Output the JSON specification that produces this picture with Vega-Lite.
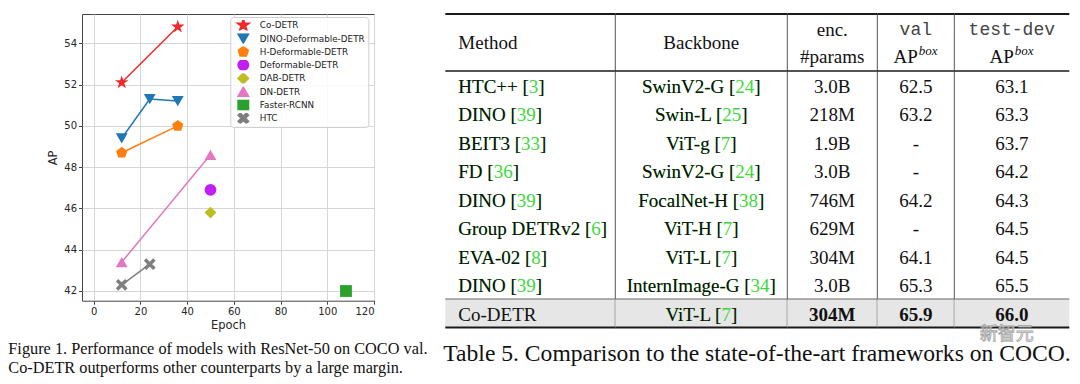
{
  "$schema": "https://vega.github.io/schema/vega-lite/v6.json",
  "background": "white",
  "padding": {"left": 7, "top": 13, "right": 0, "bottom": 0},
  "bounds": "flush",
  "spacing": 71.3,
  "datasets": {
    "perf": [
      {"model": "Co-DETR", "epoch": 12, "ap": 52.1},
      {"model": "Co-DETR", "epoch": 36, "ap": 54.8},
      {"model": "DINO-Deformable-DETR", "epoch": 12, "ap": 49.4},
      {"model": "DINO-Deformable-DETR", "epoch": 24, "ap": 51.3},
      {"model": "DINO-Deformable-DETR", "epoch": 36, "ap": 51.2},
      {"model": "H-Deformable-DETR", "epoch": 12, "ap": 48.7},
      {"model": "H-Deformable-DETR", "epoch": 36, "ap": 50.0},
      {"model": "Deformable-DETR", "epoch": 50, "ap": 46.9},
      {"model": "DAB-DETR", "epoch": 50, "ap": 45.8},
      {"model": "DN-DETR", "epoch": 12, "ap": 43.4},
      {"model": "DN-DETR", "epoch": 50, "ap": 48.6},
      {"model": "Faster-RCNN", "epoch": 108, "ap": 42.0},
      {"model": "HTC", "epoch": 12, "ap": 42.3},
      {"model": "HTC", "epoch": 24, "ap": 43.3}
    ],
    "table": [
      {"row": "r1", "method": "HTC++", "mref": "3", "backbone": "SwinV2-G", "bref": "24", "params": "3.0B", "val": "62.5", "test": "63.1"},
      {"row": "r2", "method": "DINO", "mref": "39", "backbone": "Swin-L", "bref": "25", "params": "218M", "val": "63.2", "test": "63.3"},
      {"row": "r3", "method": "BEIT3", "mref": "33", "backbone": "ViT-g", "bref": "7", "params": "1.9B", "val": "-", "test": "63.7"},
      {"row": "r4", "method": "FD", "mref": "36", "backbone": "SwinV2-G", "bref": "24", "params": "3.0B", "val": "-", "test": "64.2"},
      {"row": "r5", "method": "DINO", "mref": "39", "backbone": "FocalNet-H", "bref": "38", "params": "746M", "val": "64.2", "test": "64.3"},
      {"row": "r6", "method": "Group DETRv2", "mref": "6", "backbone": "ViT-H", "bref": "7", "params": "629M", "val": "-", "test": "64.5"},
      {"row": "r7", "method": "EVA-02", "mref": "8", "backbone": "ViT-L", "bref": "7", "params": "304M", "val": "64.1", "test": "64.5"},
      {"row": "r8", "method": "DINO", "mref": "39", "backbone": "InternImage-G", "bref": "34", "params": "3.0B", "val": "65.3", "test": "65.5"},
      {"row": "r9", "method": "Co-DETR", "mref": "", "backbone": "ViT-L", "bref": "7", "params": "304M", "val": "65.9", "test": "66.0"}
    ]
  },
  "config": {
    "view": {"stroke": null},
    "font": "DejaVu Sans",
    "style": {"tbl": {"font": "Liberation Serif", "fontSize": 19, "color": "#111111", "baseline": "middle"}},
    "rule": {"color": "#1a1a1a"},
    "axis": {
      "labelFont": "DejaVu Sans", "labelFontSize": 10, "labelColor": "#262626",
      "titleFont": "DejaVu Sans", "titleFontSize": 11.5, "titleFontWeight": "normal", "titleColor": "#262626",
      "domain": false, "tickColor": "#444444", "tickSize": 3.5, "labelPadding": 2,
      "gridColor": "#d6d6d6", "gridWidth": 1
    },
    "axisX": {"titlePadding": 3},
    "axisY": {"titlePadding": 5},
    "legend": {
      "orient": "none", "legendX": 148.3, "legendY": 3, "padding": 3,
      "fillColor": "rgba(255,255,255,0.85)", "strokeColor": "#d0d0d0", "cornerRadius": 3,
      "labelFont": "DejaVu Sans", "labelFontSize": 8.8, "labelColor": "#222222",
      "symbolSize": 110, "clipHeight": 10.4, "rowPadding": 2.3, "labelOffset": 10.5, "symbolOffset": 4
    }
  },
  "hconcat": [
    {
      "width": 292,
      "height": 286.7,
      "view": {"stroke": "#444444", "strokeWidth": 1},
      "data": {"name": "perf"},
      "title": {
        "text": ["Figure 1. Performance of models with ResNet-50 on COCO val.", "Co-DETR outperforms other counterparts by a large margin."],
        "orient": "bottom", "anchor": "start", "frame": "group", "dx": -73.7, "offset": 10,
        "font": "Liberation Serif", "fontSize": 16.3, "fontWeight": "normal", "color": "#111111", "lineHeight": 19
      },
      "encoding": {
        "x": {"field": "epoch", "type": "quantitative", "title": "Epoch",
              "scale": {"domain": [-5, 120], "nice": false, "zero": false},
              "axis": {"values": [0, 20, 40, 60, 80, 100, 120]}},
        "y": {"field": "ap", "type": "quantitative", "title": "AP",
              "scale": {"domain": [41.53, 55.42], "nice": false, "zero": false},
              "axis": {"values": [42, 44, 46, 48, 50, 52, 54]}},
        "color": {"field": "model", "type": "nominal", "title": null,
          "scale": {"domain": ["Co-DETR", "DINO-Deformable-DETR", "H-Deformable-DETR", "Deformable-DETR", "DAB-DETR", "DN-DETR", "Faster-RCNN", "HTC"],
                    "range": ["#ee2a2a", "#1f77b4", "#ff7f0e", "#c21df2", "#bcbd22", "#e377c2", "#2ca02c", "#7f7f7f"]}}
      },
      "layer": [
        {
          "mark": {"type": "line", "strokeWidth": 1.5}
        },
        {
          "mark": {"type": "point", "filled": true, "opacity": 1, "size": 140},
          "encoding": {
            "shape": {"field": "model", "type": "nominal", "title": null,
              "scale": {"domain": ["Co-DETR", "DINO-Deformable-DETR", "H-Deformable-DETR", "Deformable-DETR", "DAB-DETR", "DN-DETR", "Faster-RCNN", "HTC"],
                        "range": [
                          "M0,-1.2L0.27,-0.371L1.141,-0.371L0.436,0.142L0.706,0.971L0,0.458L-0.706,0.971L-0.436,0.142L-1.141,-0.371L-0.27,-0.371Z",
                          "triangle-down",
                          "M0,-1L0.951,-0.309L0.588,0.809L-0.588,0.809L-0.951,-0.309Z",
                          "circle",
                          "diamond",
                          "triangle-up",
                          "square",
                          "M0,-0.42L0.58,-1L1,-0.58L0.42,0L1,0.58L0.58,1L0,0.42L-0.58,1L-1,0.58L-0.42,0L-1,-0.58L-0.58,-1Z"
                        ]}}
          }
        }
      ]
    },
    {
      "spacing": 0,
      "bounds": "flush",
      "title": {
        "text": "Table 5. Comparison to the state-of-the-art frameworks on COCO.",
        "orient": "bottom", "anchor": "start", "frame": "group", "dx": -2, "offset": -2,
        "font": "Liberation Serif", "fontSize": 23.6, "fontWeight": "normal", "color": "#111111"
      },
      "hconcat": [
        {
          "width": 170, "height": 313.5,
          "data": {"name": "table"},
          "transform": [
            {"calculate": "datum.mref ? datum.method + ' [' + datum.mref + ']' : datum.method", "as": "m_full"},
            {"calculate": "datum.mref ? datum.method + ' [' + replace(datum.mref, /[0-9]/g, '\u2007') + ']' : datum.method", "as": "m_mask"}
          ],
          "layer": [
            {"transform": [{"filter": "datum.row === 'r9'"}], "mark": {"type": "rect", "color": "#e6e6e6"},
             "encoding": {"y": {"field": "row", "type": "nominal", "axis": null,
               "scale": {"domain": ["h1", "h2", "r1", "r2", "r3", "r4", "r5", "r6", "r7", "r8", "r9"], "paddingInner": 0, "paddingOuter": 0}}}},
            {"transform": [{"filter": "datum.row === 'r1'"}], "mark": {"type": "rule", "strokeWidth": 2},
             "encoding": {"y": {"datum": "h1", "type": "nominal", "bandPosition": 0}}},
            {"transform": [{"filter": "datum.row === 'r1'"}], "mark": {"type": "rule", "strokeWidth": 1.6},
             "encoding": {"y": {"datum": "r1", "type": "nominal", "bandPosition": 0}}},
            {"transform": [{"filter": "datum.row === 'r1'"}], "mark": {"type": "rule", "strokeWidth": 1, "color": "#666666"},
             "encoding": {"y": {"datum": "r9", "type": "nominal", "bandPosition": 0}}},
            {"transform": [{"filter": "datum.row === 'r1'"}], "mark": {"type": "rule", "strokeWidth": 2.2},
             "encoding": {"y": {"datum": "r9", "type": "nominal", "bandPosition": 1}}},
            {"transform": [{"filter": "datum.row === 'r1'"}], "mark": {"type": "rule", "strokeWidth": 1, "color": "#555555"},
             "encoding": {"x": {"value": "width"}}},
            {"transform": [{"filter": "datum.row === 'r1'"}], "mark": {"type": "text", "style": "tbl", "align": "left", "dx": -72},
             "encoding": {"y": {"datum": "h1", "type": "nominal", "bandPosition": 1}, "text": {"value": "Method"}}},
            {"transform": [{"filter": "datum.mref !== ''"}], "mark": {"type": "text", "style": "tbl", "align": "left", "dx": -72, "dy": 1.5, "color": "#3cd83c"},
             "encoding": {"y": {"field": "row", "type": "nominal"}, "text": {"field": "m_full"}}},
            {"mark": {"type": "text", "style": "tbl", "align": "left", "dx": -72, "dy": 1.5},
             "encoding": {"y": {"field": "row", "type": "nominal"}, "text": {"field": "m_mask"}}}
          ]
        },
        {
          "width": 172, "height": 313.5,
          "data": {"name": "table"},
          "transform": [
            {"calculate": "datum.backbone + ' [' + datum.bref + ']'", "as": "b_full"},
            {"calculate": "datum.backbone + ' [' + replace(datum.bref, /[0-9]/g, '\u2007') + ']'", "as": "b_mask"}
          ],
          "layer": [
            {"transform": [{"filter": "datum.row === 'r9'"}], "mark": {"type": "rect", "color": "#e6e6e6"},
             "encoding": {"y": {"field": "row", "type": "nominal", "axis": null,
               "scale": {"domain": ["h1", "h2", "r1", "r2", "r3", "r4", "r5", "r6", "r7", "r8", "r9"], "paddingInner": 0, "paddingOuter": 0}}}},
            {"transform": [{"filter": "datum.row === 'r1'"}], "mark": {"type": "rule", "strokeWidth": 2},
             "encoding": {"y": {"datum": "h1", "type": "nominal", "bandPosition": 0}}},
            {"transform": [{"filter": "datum.row === 'r1'"}], "mark": {"type": "rule", "strokeWidth": 1.6},
             "encoding": {"y": {"datum": "r1", "type": "nominal", "bandPosition": 0}}},
            {"transform": [{"filter": "datum.row === 'r1'"}], "mark": {"type": "rule", "strokeWidth": 1, "color": "#666666"},
             "encoding": {"y": {"datum": "r9", "type": "nominal", "bandPosition": 0}}},
            {"transform": [{"filter": "datum.row === 'r1'"}], "mark": {"type": "rule", "strokeWidth": 2.2},
             "encoding": {"y": {"datum": "r9", "type": "nominal", "bandPosition": 1}}},
            {"transform": [{"filter": "datum.row === 'r1'"}], "mark": {"type": "rule", "strokeWidth": 1, "color": "#555555"},
             "encoding": {"x": {"value": "width"}}},
            {"transform": [{"filter": "datum.row === 'r1'"}], "mark": {"type": "text", "style": "tbl"},
             "encoding": {"y": {"datum": "h1", "type": "nominal", "bandPosition": 1}, "text": {"value": "Backbone"}}},
            {"mark": {"type": "text", "style": "tbl", "color": "#3cd83c", "dy": 1.5},
             "encoding": {"y": {"field": "row", "type": "nominal"}, "text": {"field": "b_full"}}},
            {"mark": {"type": "text", "style": "tbl", "dy": 1.5},
             "encoding": {"y": {"field": "row", "type": "nominal"}, "text": {"field": "b_mask"}}}
          ]
        },
        {
          "width": 90, "height": 313.5,
          "data": {"name": "table"},
          "layer": [
            {"transform": [{"filter": "datum.row === 'r9'"}], "mark": {"type": "rect", "color": "#e6e6e6"},
             "encoding": {"y": {"field": "row", "type": "nominal", "axis": null,
               "scale": {"domain": ["h1", "h2", "r1", "r2", "r3", "r4", "r5", "r6", "r7", "r8", "r9"], "paddingInner": 0, "paddingOuter": 0}}}},
            {"transform": [{"filter": "datum.row === 'r1'"}], "mark": {"type": "rule", "strokeWidth": 2},
             "encoding": {"y": {"datum": "h1", "type": "nominal", "bandPosition": 0}}},
            {"transform": [{"filter": "datum.row === 'r1'"}], "mark": {"type": "rule", "strokeWidth": 1.6},
             "encoding": {"y": {"datum": "r1", "type": "nominal", "bandPosition": 0}}},
            {"transform": [{"filter": "datum.row === 'r1'"}], "mark": {"type": "rule", "strokeWidth": 1, "color": "#666666"},
             "encoding": {"y": {"datum": "r9", "type": "nominal", "bandPosition": 0}}},
            {"transform": [{"filter": "datum.row === 'r1'"}], "mark": {"type": "rule", "strokeWidth": 2.2},
             "encoding": {"y": {"datum": "r9", "type": "nominal", "bandPosition": 1}}},
            {"transform": [{"filter": "datum.row === 'r1'"}], "mark": {"type": "rule", "strokeWidth": 1, "color": "#555555"},
             "encoding": {"x": {"value": "width"}}},
            {"transform": [{"filter": "datum.row === 'r1'"}], "mark": {"type": "text", "style": "tbl", "dy": 2},
             "encoding": {"y": {"datum": "h1", "type": "nominal"}, "text": {"value": "enc."}}},
            {"transform": [{"filter": "datum.row === 'r1'"}], "mark": {"type": "text", "style": "tbl"},
             "encoding": {"y": {"datum": "h2", "type": "nominal"}, "text": {"value": "#params"}}},
            {"transform": [{"filter": "datum.row !== 'r9'"}], "mark": {"type": "text", "style": "tbl", "dy": 1.5},
             "encoding": {"y": {"field": "row", "type": "nominal"}, "text": {"field": "params"}}},
            {"transform": [{"filter": "datum.row === 'r9'"}], "mark": {"type": "text", "style": "tbl", "fontWeight": "bold", "dy": 1.5},
             "encoding": {"y": {"field": "row", "type": "nominal"}, "text": {"field": "params"}}}
          ]
        },
        {
          "width": 77, "height": 313.5,
          "data": {"name": "table"},
          "layer": [
            {"transform": [{"filter": "datum.row === 'r9'"}], "mark": {"type": "rect", "color": "#e6e6e6"},
             "encoding": {"y": {"field": "row", "type": "nominal", "axis": null,
               "scale": {"domain": ["h1", "h2", "r1", "r2", "r3", "r4", "r5", "r6", "r7", "r8", "r9"], "paddingInner": 0, "paddingOuter": 0}}}},
            {"transform": [{"filter": "datum.row === 'r1'"}], "mark": {"type": "rule", "strokeWidth": 2},
             "encoding": {"y": {"datum": "h1", "type": "nominal", "bandPosition": 0}}},
            {"transform": [{"filter": "datum.row === 'r1'"}], "mark": {"type": "rule", "strokeWidth": 1.6},
             "encoding": {"y": {"datum": "r1", "type": "nominal", "bandPosition": 0}}},
            {"transform": [{"filter": "datum.row === 'r1'"}], "mark": {"type": "rule", "strokeWidth": 1, "color": "#666666"},
             "encoding": {"y": {"datum": "r9", "type": "nominal", "bandPosition": 0}}},
            {"transform": [{"filter": "datum.row === 'r1'"}], "mark": {"type": "rule", "strokeWidth": 2.2},
             "encoding": {"y": {"datum": "r9", "type": "nominal", "bandPosition": 1}}},
            {"transform": [{"filter": "datum.row === 'r1'"}], "mark": {"type": "rule", "strokeWidth": 1, "color": "#555555"},
             "encoding": {"x": {"value": "width"}}},
            {"transform": [{"filter": "datum.row === 'r1'"}], "mark": {"type": "text", "style": "tbl", "dy": 2, "font": "Liberation Mono", "fontSize": 18, "color": "#444444"},
             "encoding": {"y": {"datum": "h1", "type": "nominal"}, "text": {"value": "val"}}},
            {"transform": [{"filter": "datum.row === 'r1'"}], "mark": {"type": "text", "style": "tbl", "align": "right", "dx": 2},
             "encoding": {"y": {"datum": "h2", "type": "nominal"}, "text": {"value": "AP"}}},
            {"transform": [{"filter": "datum.row === 'r1'"}], "mark": {"type": "text", "style": "tbl", "align": "left", "dx": 3, "dy": -6, "fontSize": 13, "fontStyle": "italic"},
             "encoding": {"y": {"datum": "h2", "type": "nominal"}, "text": {"value": "box"}}},
            {"transform": [{"filter": "datum.row !== 'r9'"}], "mark": {"type": "text", "style": "tbl", "dy": 1.5},
             "encoding": {"y": {"field": "row", "type": "nominal"}, "text": {"field": "val"}}},
            {"transform": [{"filter": "datum.row === 'r9'"}], "mark": {"type": "text", "style": "tbl", "fontWeight": "bold", "dy": 1.5},
             "encoding": {"y": {"field": "row", "type": "nominal"}, "text": {"field": "val"}}}
          ]
        },
        {
          "width": 115, "height": 313.5,
          "data": {"name": "table"},
          "layer": [
            {"transform": [{"filter": "datum.row === 'r9'"}], "mark": {"type": "rect", "color": "#e6e6e6"},
             "encoding": {"y": {"field": "row", "type": "nominal", "axis": null,
               "scale": {"domain": ["h1", "h2", "r1", "r2", "r3", "r4", "r5", "r6", "r7", "r8", "r9"], "paddingInner": 0, "paddingOuter": 0}}}},
            {"transform": [{"filter": "datum.row === 'r1'"}], "mark": {"type": "rule", "strokeWidth": 2},
             "encoding": {"y": {"datum": "h1", "type": "nominal", "bandPosition": 0}}},
            {"transform": [{"filter": "datum.row === 'r1'"}], "mark": {"type": "rule", "strokeWidth": 1.6},
             "encoding": {"y": {"datum": "r1", "type": "nominal", "bandPosition": 0}}},
            {"transform": [{"filter": "datum.row === 'r1'"}], "mark": {"type": "rule", "strokeWidth": 1, "color": "#666666"},
             "encoding": {"y": {"datum": "r9", "type": "nominal", "bandPosition": 0}}},
            {"transform": [{"filter": "datum.row === 'r1'"}], "mark": {"type": "rule", "strokeWidth": 2.2},
             "encoding": {"y": {"datum": "r9", "type": "nominal", "bandPosition": 1}}},
            {"transform": [{"filter": "datum.row === 'r1'"}], "mark": {"type": "text", "style": "tbl", "dy": 2, "font": "Liberation Mono", "fontSize": 18, "color": "#444444"},
             "encoding": {"y": {"datum": "h1", "type": "nominal"}, "text": {"value": "test-dev"}}},
            {"transform": [{"filter": "datum.row === 'r1'"}], "mark": {"type": "text", "style": "tbl", "align": "right", "dx": 2},
             "encoding": {"y": {"datum": "h2", "type": "nominal"}, "text": {"value": "AP"}}},
            {"transform": [{"filter": "datum.row === 'r1'"}], "mark": {"type": "text", "style": "tbl", "align": "left", "dx": 3, "dy": -6, "fontSize": 13, "fontStyle": "italic"},
             "encoding": {"y": {"datum": "h2", "type": "nominal"}, "text": {"value": "box"}}},
            {"transform": [{"filter": "datum.row !== 'r9'"}], "mark": {"type": "text", "style": "tbl", "dy": 1.5},
             "encoding": {"y": {"field": "row", "type": "nominal"}, "text": {"field": "test"}}},
            {"transform": [{"filter": "datum.row === 'r9'"}], "mark": {"type": "text", "style": "tbl", "fontWeight": "bold", "dy": 1.5},
             "encoding": {"y": {"field": "row", "type": "nominal"}, "text": {"field": "test"}}},
            {"transform": [{"filter": "datum.row === 'r9'"}], "mark": {"type": "text", "style": "tbl", "font": "Noto Sans CJK SC", "fontSize": 18, "dx": -5, "dy": 7, "color": "#ffffff", "opacity": 0.9, "stroke": "#9a9a9a", "strokeWidth": 0.8},
             "encoding": {"y": {"datum": "r9", "type": "nominal", "bandPosition": 1}, "text": {"value": "新智元"}}}
          ]
        }
      ]
    }
  ]
}
